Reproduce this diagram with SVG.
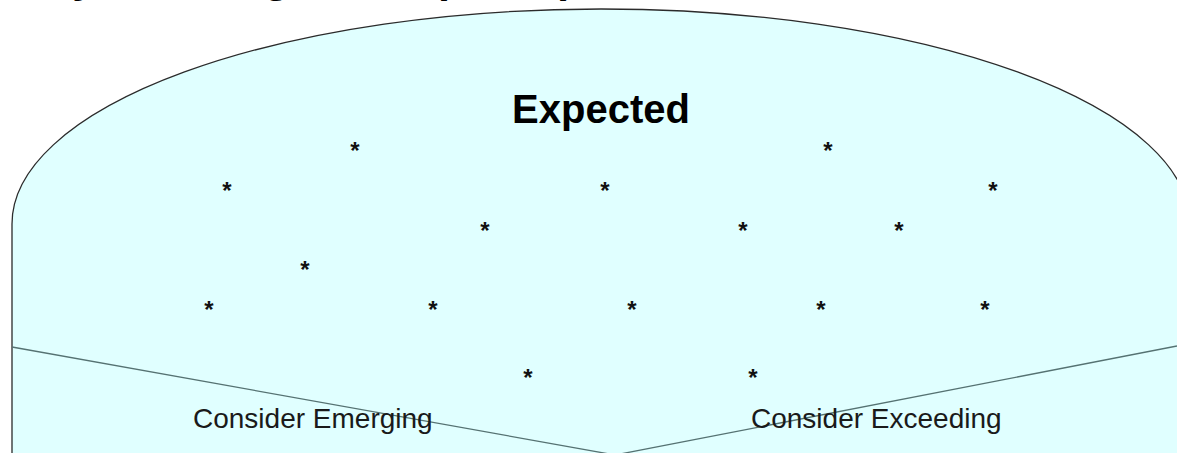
<svg xmlns="http://www.w3.org/2000/svg" width="1177" height="453" viewBox="0 0 1177 453">
  <style>
    .title { font-family: "Liberation Sans", Arial, sans-serif; font-weight: bold; font-size: 43px; fill: #000; }
    .band-label { font-family: "Liberation Sans", Arial, sans-serif; font-weight: bold; font-size: 40px; fill: #000; text-anchor: middle; }
    .zone-label { font-family: "Liberation Sans", Arial, sans-serif; font-size: 28px; fill: #1a1a1a; }
    .pupil { font-family: "Liberation Sans", Arial, sans-serif; font-weight: bold; font-size: 24px; fill: #111; text-anchor: middle; }
    .outline { fill: #E0FFFF; stroke: #2b2b2b; stroke-width: 1.3; }
    .divider { fill: none; stroke: #557272; stroke-width: 1.3; }
  </style>

  <rect x="0" y="0" width="1177" height="453" fill="#ffffff"/>

  <!-- page heading, mostly above the top edge -->
  <text class="title" x="-9" y="-8">Early Learning Goals (ELGs)</text>

  <!-- main dome-shaped band -->
  <g id="expected">
    <path class="outline" d="M 12 470 L 12 224 A 589 215 0 0 1 1190 224 L 1190 470 Z"/>
    <text class="band-label" x="601" y="123">Expected</text>
  </g>

  <!-- boundaries between the lower zones -->
  <g id="connectors">
    <line class="divider" x1="12" y1="347" x2="615" y2="455"/>
    <line class="divider" x1="615" y1="455" x2="1177" y2="346"/>
  </g>

  <g id="emerging">
    <text class="zone-label" x="193" y="428">Consider Emerging</text>
  </g>

  <g id="exceeding">
    <text class="zone-label" x="751" y="428">Consider Exceeding</text>
  </g>

  <!-- individual pupils -->
  <g id="pupils">
    <text class="pupil" x="355" y="159">*</text>
    <text class="pupil" x="828" y="159">*</text>
    <text class="pupil" x="227" y="199">*</text>
    <text class="pupil" x="605" y="199">*</text>
    <text class="pupil" x="993" y="199">*</text>
    <text class="pupil" x="485" y="239">*</text>
    <text class="pupil" x="743" y="239">*</text>
    <text class="pupil" x="899" y="239">*</text>
    <text class="pupil" x="305" y="278">*</text>
    <text class="pupil" x="209" y="318">*</text>
    <text class="pupil" x="433" y="318">*</text>
    <text class="pupil" x="632" y="318">*</text>
    <text class="pupil" x="821" y="318">*</text>
    <text class="pupil" x="985" y="318">*</text>
    <text class="pupil" x="528" y="386">*</text>
    <text class="pupil" x="753" y="386">*</text>
  </g>
</svg>
